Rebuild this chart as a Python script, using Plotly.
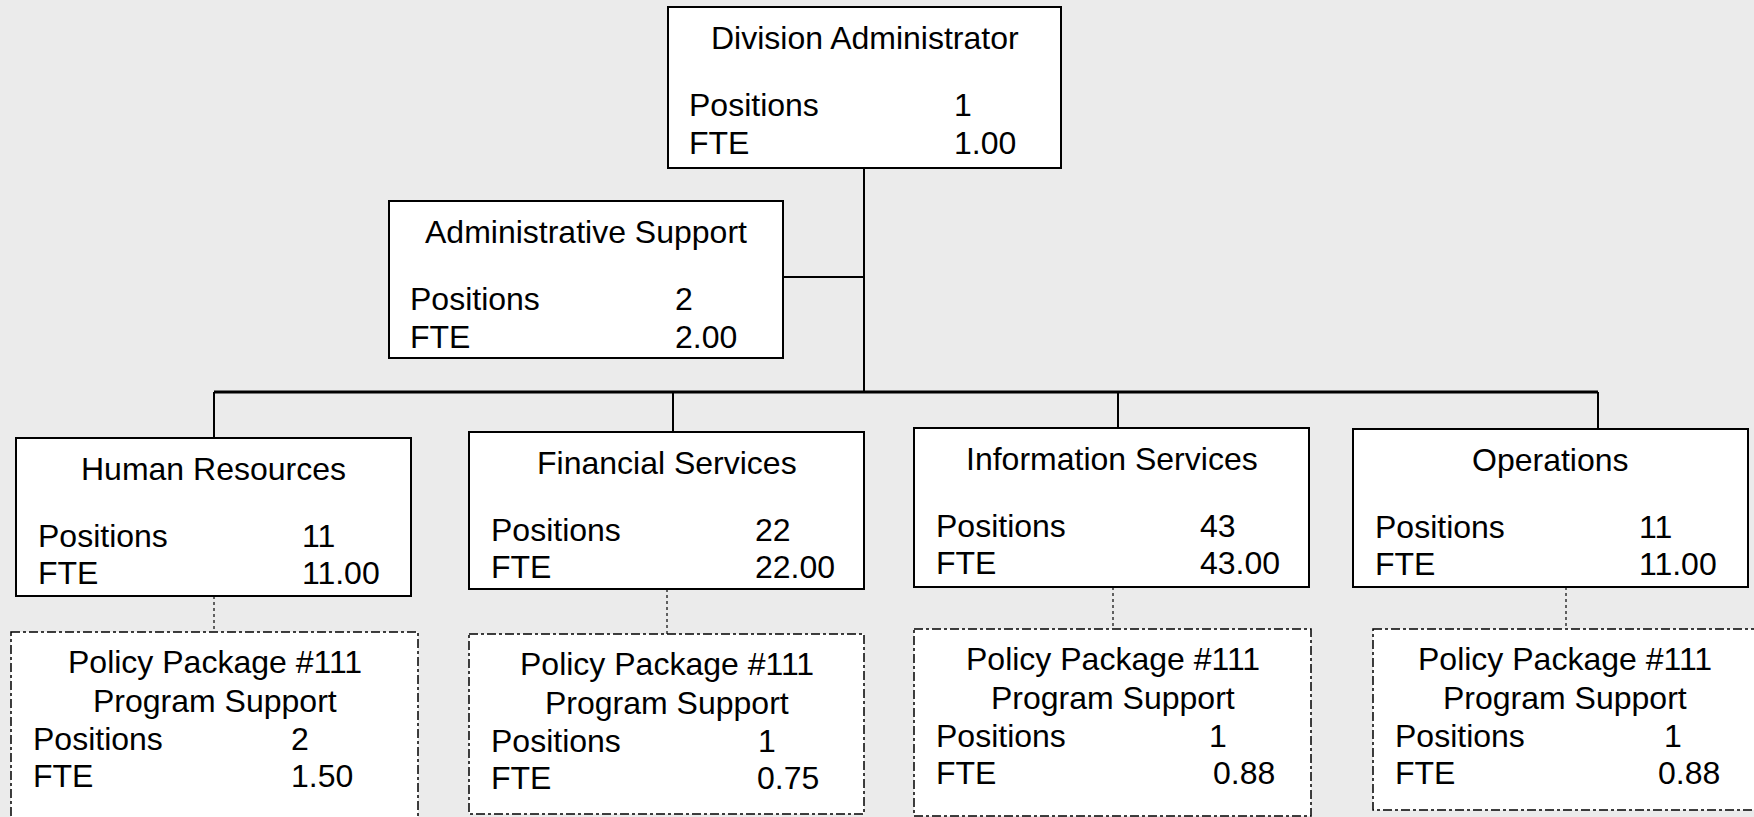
import plotly.graph_objects as go

# ---------------- data ----------------
top_names = ["Division Administrator", "Administrative Support"]
top_positions = [1, 2]
top_fte = [1.00, 2.00]

units = ["Human Resources", "Financial Services", "Information Services", "Operations"]
unit_positions = [11, 22, 43, 11]
unit_fte = [11.00, 22.00, 43.00, 11.00]

pp_title = ["Policy Package #111", "Program Support"]
pp_positions = [2, 1, 1, 1]
pp_fte = [1.50, 0.75, 0.88, 0.88]

# ---------------- layout geometry (pixels) ----------------
W, H = 1754, 817
top_boxes = [(668, 7, 1061, 168), (389, 201, 783, 358)]
unit_boxes = [(16, 438, 411, 596), (469, 432, 864, 589), (914, 428, 1309, 587), (1353, 429, 1748, 587)]
pp_boxes = [(11, 632, 418, 830), (469, 634, 864, 814), (914, 629, 1311, 816), (1373, 629, 1760, 810)]
pp_val_off = [(279, 279), (288, 287), (294, 298), (290, 284)]
unit_drop_x = [214, 673, 1118, 1598]
pp_drop_x = [214, 667, 1113, 1566]
spine_x = 864
bus_y = 392
admin_link_y = 277

FONT = "Liberation Sans, Arial, sans-serif"
FS = 32
BG = "#ebebeb"

fig = go.Figure()
shapes = []
annotations = []


def line(x0, y0, x1, y1, width=2, dash="solid", color="black"):
    shapes.append(dict(type="line", xref="x", yref="y", x0=x0, y0=y0, x1=x1, y1=y1,
                       line=dict(color=color, width=width, dash=dash), layer="above"))


def rect(b, dash="solid", width=2):
    shapes.append(dict(type="rect", xref="x", yref="y", x0=b[0], y0=b[1], x1=b[2], y1=b[3],
                       fillcolor="white", line=dict(color="black", width=width, dash=dash),
                       layer="above"))


def text(x, y, s, anchor="left"):
    annotations.append(dict(x=x, y=y, xref="x", yref="y", text=s, showarrow=False,
                            xanchor=anchor, yanchor="middle",
                            font=dict(family=FONT, size=FS, color="black"), borderpad=0))


# connectors
line(spine_x, top_boxes[0][3], spine_x, bus_y, width=2)
line(top_boxes[1][2], admin_link_y, spine_x, admin_link_y, width=2)
line(unit_drop_x[0], bus_y, unit_drop_x[-1], bus_y, width=3)
for i, ux in enumerate(unit_drop_x):
    line(ux, bus_y, ux, unit_boxes[i][1], width=2)
for i, px in enumerate(pp_drop_x):
    line(px, unit_boxes[i][3], px, pp_boxes[i][1], width=1.5, dash="dot", color="#333333")

# top boxes
for i, b in enumerate(top_boxes):
    rect(b)
    text((b[0] + b[2]) / 2, b[1] + 31, top_names[i], anchor="center")
    text(b[0] + 20, b[1] + 98, "Positions")
    text(b[0] + 20, b[1] + 136, "FTE")
    text(b[0] + 285, b[1] + 98, f"{top_positions[i]}")
    text(b[0] + 285, b[1] + 136, f"{top_fte[i]:.2f}")

# unit boxes
for i, b in enumerate(unit_boxes):
    rect(b)
    text((b[0] + b[2]) / 2, b[1] + 31, units[i], anchor="center")
    text(b[0] + 21, b[1] + 98, "Positions")
    text(b[0] + 21, b[1] + 135, "FTE")
    text(b[0] + 285, b[1] + 98, f"{unit_positions[i]}")
    text(b[0] + 285, b[1] + 135, f"{unit_fte[i]:.2f}")

# policy package boxes
for i, b in enumerate(pp_boxes):
    rect(b, dash="dashdot", width=1.5)
    cx = (b[0] + min(b[2], W + 2)) / 2
    text(cx, b[1] + 30, pp_title[0], anchor="center")
    text(cx, b[1] + 69, pp_title[1], anchor="center")
    text(b[0] + 21, b[1] + 107, "Positions")
    text(b[0] + 21, b[1] + 144, "FTE")
    text(b[0] + pp_val_off[i][0], b[1] + 107, f"{pp_positions[i]}")
    text(b[0] + pp_val_off[i][1], b[1] + 144, f"{pp_fte[i]:.2f}")

fig.update_layout(
    width=W, height=H,
    margin=dict(l=0, r=0, t=0, b=0),
    paper_bgcolor=BG, plot_bgcolor=BG,
    xaxis=dict(range=[0, W], visible=False, fixedrange=True),
    yaxis=dict(range=[H, 0], visible=False, fixedrange=True),
    shapes=shapes, annotations=annotations, showlegend=False,
)

fig.write_html(
    "out.html",
    config={"displayModeBar": False},
    post_script="document.body.style.margin='0';document.body.style.overflow='hidden';"
                "document.body.style.background='" + BG + "';",
)
